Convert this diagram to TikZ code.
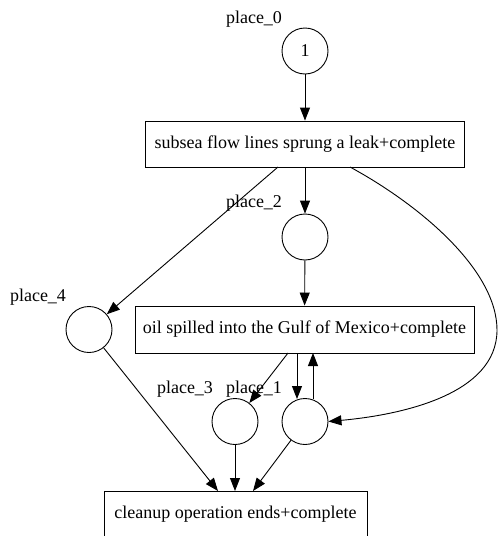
\documentclass[tikz,border=0pt]{standalone}
\usepackage{fontspec}
\setmainfont{Liberation Serif}
\usetikzlibrary{arrows.meta}
\begin{document}
\begin{tikzpicture}[x=1pt,y=-1pt,
  place/.style={draw,circle,minimum size=46pt,inner sep=0pt,line width=0.9pt},
  trans/.style={draw,rectangle,line width=0.9pt,inner sep=0pt},
  lbl/.style={font=\fontsize{18}{21}\selectfont,inner sep=0pt},
  arr/.style={line width=0.9pt,-{Triangle[length=13pt,width=10pt]}}]
\useasboundingbox (0,0) rectangle (498,536);
\node[place,font=\fontsize{18}{21}\selectfont] (p0) at (305,51) {1};
\node[lbl] (l0) at (254,19) {place\_0};
\node[trans,minimum width=319pt,minimum height=46pt] (t1) at (305,144) {};
\node[lbl] (t1txt) at (305,144) {subsea flow lines sprung a leak+complete};
\node[place] (p2) at (305,237) {};
\node[lbl] (l2) at (254,203) {place\_2};
\node[place] (p4) at (89,329.5) {};
\node[lbl] (l4) at (38,297) {place\_4};
\node[trans,minimum width=339pt,minimum height=47pt] (t2) at (304.5,329.5) {};
\node[lbl] (t2txt) at (304.5,329.5) {oil spilled into the Gulf of Mexico+complete};
\node[place] (p3) at (235,421.5) {};
\node[lbl] (l3) at (185,389) {place\_3};
\node[place] (p1) at (305,421.5) {};
\node[lbl] (l1) at (254,389) {place\_1};
\node[trans,minimum width=263pt,minimum height=47pt] (t3) at (235.5,514.5) {};
\node[lbl] (t3txt) at (235.5,514.5) {cleanup operation ends+complete};
\coordinate (c1) at (350,167);
\draw[arr] (p0) -- (t1);
\draw[arr] (t1) -- (p2);
\draw[arr] (278,167) -- (p4);
\draw[arr] (c1) .. controls (420,205) and (497,270) .. (497,330) .. controls (497,395) and (400,415) .. (p1.east);
\draw[arr] (p2) -- (t2);
\draw[arr] (288,353) -- (p3);
\draw[arr] (297,353) -- (297,399);
\draw[arr] (313,399) -- (313,353);
\draw[arr] (p4) -- (218,491);
\draw[arr] (p3) -- (235,491);
\draw[arr] (p1) -- (253,491);
\end{tikzpicture}
\end{document}
